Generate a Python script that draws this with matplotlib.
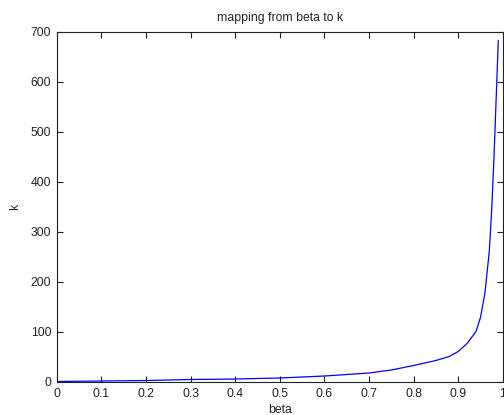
import numpy as np
import matplotlib.pyplot as plt

# values
beta = [0, 0.1, 0.2, 0.3, 0.4, 0.5, 0.6, 0.7, 0.75, 0.8, 0.85, 0.88, 0.9,
        0.92, 0.94, 0.95, 0.96, 0.97, 0.975, 0.98, 0.985, 0.99]
k = [0, 1, 2, 4, 5, 7, 11, 17, 23, 32, 42, 50, 60,
     76, 100, 128, 176, 262, 340, 440, 560, 682]

xticks = np.arange(0, 1.01, 0.1)
xlabels = ['0', '0.1', '0.2', '0.3', '0.4', '0.5', '0.6', '0.7', '0.8', '0.9', '1']
yticks = [0, 100, 200, 300, 400, 500, 600, 700]

plt.rcParams['font.family'] = ['Liberation Sans', 'DejaVu Sans']

fig = plt.figure(figsize=(5.04, 4.15), dpi=100)
ax = fig.add_axes([0.1125, 0.0807, 0.885, 0.8429])
ax.plot(beta, k, color='#0000ff', lw=0.9)

ax.set_xlim(0, 1)
ax.set_ylim(0, 700)
ax.set_xticks(xticks)
ax.set_xticklabels(xlabels)
ax.set_yticks(yticks)
ax.tick_params(direction='in', top=True, right=True, length=4, width=0.8,
               labelsize=8.8, colors='#222222')
ax.tick_params(axis='x', pad=4.5)
ax.tick_params(axis='y', pad=4)
for s in ax.spines.values():
    s.set_linewidth(0.8)
    s.set_color('#222222')

ax.set_title('mapping from beta to k', fontsize=8.8, color='#222222', pad=8)
ax.set_xlabel('beta', fontsize=8.8, color='#222222', labelpad=3)
ax.set_ylabel('k', fontsize=8.8, color='#222222', labelpad=7)

fig.savefig('out.png', dpi=100)
